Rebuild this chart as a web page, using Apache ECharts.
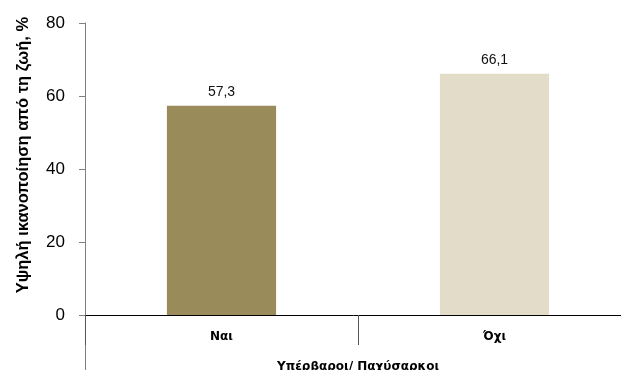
<!DOCTYPE html>
<html>
<head>
<meta charset="utf-8">
<script src="https://cdn.jsdelivr.net/npm/echarts@6/dist/echarts.min.js"></script>
<style>
  html, body { margin: 0; padding: 0; background: #fff; }
  #chart { width: 621px; height: 370px; }
</style>
</head>
<body>
<div id="chart"></div>
<script>
// Categories and values
const categories = ['Ναι', 'Όχι'];
const values = [57.3, 66.1];
const barColors = ['#998c5a', '#e3dcc9'];
const xAxisTitle = 'Υπέρβαροι/ Παχύσαρκοι';
const yAxisTitle = 'Υψηλή ικανοποίηση από τη ζωή, %';

const chart = echarts.init(document.getElementById('chart'), null, { renderer: 'canvas' });

const sans = 'Liberation Sans, Arial, sans-serif';
const wide = 'DejaVu Sans, sans-serif';

chart.setOption({
  animation: false,
  grid: [
    // main plotting area
    { left: 85, right: -10, top: 23, bottom: 55, containLabel: false, outerBoundsMode: 'none' },
    // strip below the category axis: carries the downward extension of the value axis line
    { left: 85, right: -10, top: 315, bottom: 0, containLabel: false, outerBoundsMode: 'none' }
  ],
  xAxis: [{
    type: 'category',
    gridIndex: 0,
    data: categories,
    axisLine: { lineStyle: { color: '#000', width: 1 } },
    axisTick: { show: true, length: 30, lineStyle: { color: '#555', width: 1 } },
    axisLabel: { margin: 16, fontFamily: wide, fontWeight: 'bold', fontSize: 12, color: '#000' },
    name: xAxisTitle,
    nameLocation: 'middle',
    nameGap: 46,
    nameTextStyle: { fontFamily: wide, fontWeight: 'bold', fontSize: 12, color: '#000' },
    splitLine: { show: false }
  }, {
    type: 'category',
    gridIndex: 1,
    data: categories,
    show: false
  }],
  yAxis: [{
    type: 'value',
    gridIndex: 0,
    min: 0,
    max: 80,
    interval: 20,
    axisLine: { show: true, lineStyle: { color: '#808080', width: 1 } },
    axisTick: { show: true, length: 6, lineStyle: { color: '#808080' } },
    axisLabel: { margin: 20, fontFamily: sans, fontSize: 17, color: '#000' },
    splitLine: { show: false }
  }, {
    type: 'value',
    gridIndex: 1,
    min: 0,
    max: 1,
    axisLine: { show: true, lineStyle: { color: '#808080', width: 1 } },
    axisTick: { show: false },
    axisLabel: { show: false },
    splitLine: { show: false }
  }],
  graphic: [{
    type: 'text',
    x: 23,
    y: 155,
    rotation: Math.PI / 2,
    style: {
      text: yAxisTitle,
      font: 'bold 16.5px ' + sans,
      fill: '#000',
      align: 'center',
      verticalAlign: 'middle'
    }
  }],
  series: [{
    type: 'bar',
    xAxisIndex: 0,
    yAxisIndex: 0,
    data: values.map((v, i) => ({ value: v, itemStyle: { color: barColors[i] } })),
    barWidth: '40%',
    label: {
      show: true,
      position: 'top',
      distance: 7,
      fontFamily: sans,
      fontSize: 14,
      color: '#111',
      formatter: p => String(p.value).replace('.', ',')
    }
  }]
});
</script>
</body>
</html>
